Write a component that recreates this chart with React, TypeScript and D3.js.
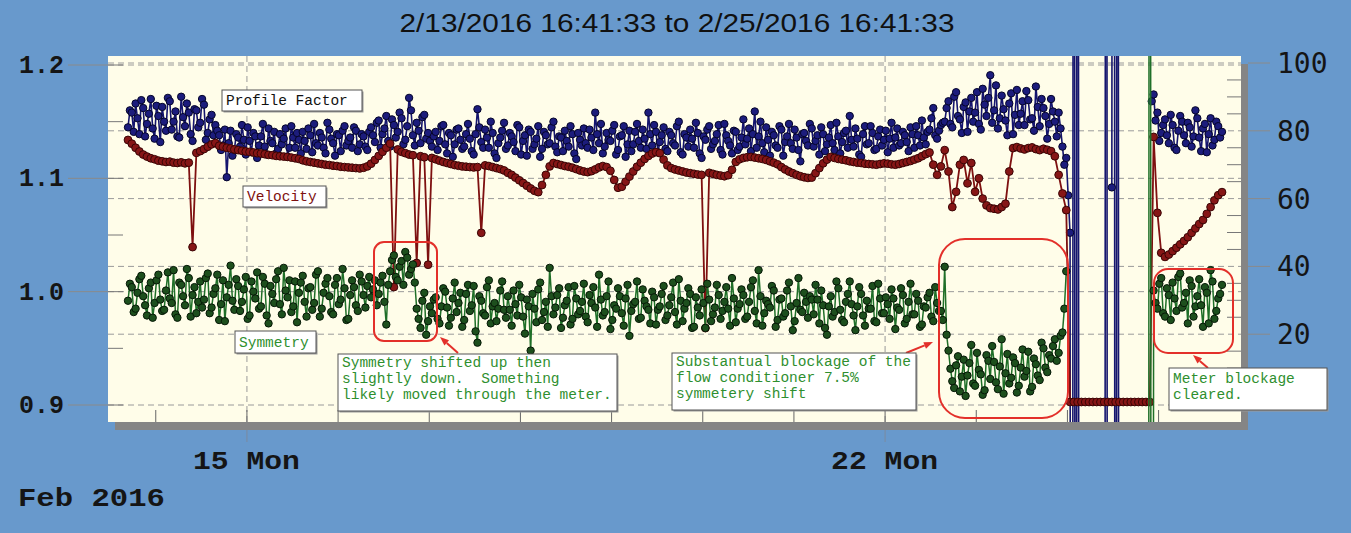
import React, { useEffect } from 'react';
import * as d3 from 'd3';

const W = 1351;
const H = 533;

const startTime = new Date(2016, 1, 13, 16, 41, 33);
const endTime = new Date(2016, 1, 25, 16, 41, 33);
const titleText = '2/13/2016 16:41:33 to 2/25/2016 16:41:33';

// readings on the hour (from startTime) and at the half hour in between.
// null = no reading, -1 / 3 = off-scale readings during the outage
const profileFactorOnHour: (number | null)[] = [
  1.145, 1.158, 1.166, 1.139, 1.162, 1.148, 1.170, 1.135, 1.155, 1.163, 1.142, 1.168, 1.150, 1.137, 1.172, 1.146, 1.158, 1.133, 1.160, 1.149, 1.165, 1.140, 1.156, 1.147,
  1.138, 1.129, 1.101, 1.142, 1.125, 1.136, 1.147, 1.121, 1.133, 1.140, 1.118, 1.137, 1.128, 1.144, 1.131, 1.122, 1.139, 1.135, 1.119, 1.146, 1.127, 1.134,
  1.141, 1.126, 1.138, 1.148, 1.129, 1.136, 1.122, 1.143, 1.131, 1.139, 1.124, 1.146, 1.133, 1.127, 1.142, 1.130, 1.137, 1.125,
  1.145, 1.132, 1.151, 1.139, 1.155, 1.128, 1.147, 1.141, 1.153, 1.134, 1.171, 1.138, 1.149, 1.131, 1.156, 1.140,
  1.128, 1.141, 1.133, 1.147, 1.122, 1.138, 1.130, 1.144, 1.126, 1.139, 1.135, 1.121, 1.161, 1.132, 1.143, 1.127, 1.140, 1.118, 1.136, 1.149,
  1.129, 1.137, 1.124, 1.145, 1.133, 1.120, 1.141, 1.130, 1.146, 1.126, 1.138, 1.131, 1.150, 1.123, 1.136, 1.142, 1.128, 1.139, 1.117, 1.134,
  1.144, 1.127, 1.136, 1.158, 1.131, 1.122, 1.140, 1.133, 1.147, 1.125, 1.138, 1.119, 1.142, 1.130, 1.148, 1.127, 1.135, 1.158, 1.129, 1.141,
  1.132, 1.145, 1.124, 1.138, 1.129, 1.150, 1.121, 1.136, 1.143, 1.127, 1.140, 1.118, 1.134, 1.146, 1.130, 1.139, 1.125, 1.148, 1.133, 1.122,
  1.141, 1.128, 1.152, 1.135, 1.124, 1.159, 1.137, 1.131, 1.145, 1.120, 1.138, 1.127, 1.143, 1.132, 1.148, 1.126, 1.136, 1.115, 1.140, 1.129,
  1.144, 1.133, 1.121, 1.139, 1.130, 1.147, 1.125, 1.137, 1.132, 1.142, 1.155, 1.128, 1.135, 1.119, 1.146, 1.131, 1.140, 1.126, 1.143, 1.134,
  1.123, 1.149, 1.136, 1.129, 1.141, 1.132, 1.145, 1.127, 1.138, 1.151, 1.130, 1.143, 1.162, 1.135, 1.147,
  1.150, 1.168, 1.145, 1.176, 1.152, 1.163, 1.141, 1.171, 1.158, 1.148, 1.179, 1.155, 1.191, 1.160, 1.144,
  1.173, 1.151, 1.166, 1.139, 1.178, 1.157, 1.147, 1.169, 1.153, 1.181, 1.146, 1.162, 1.135, 1.170, 1.150, 1.158, 1.128,
  1.118, 1.052, 3, 3,
  null, null, null, null, null, null,
  -1, -1, 1.092, -1, -1,
  null, null, null, null, null, null, null, null,
  1.174, 1.158, 1.140, 1.152, 1.131, 1.147, 1.125, 1.155, 1.138, 1.149, 1.128, 1.160, 1.136, 1.144, 1.123, 1.153, 1.134, 1.146, 1.141,
];

const profileFactorHalfHour: (number | null)[] = [
  1.160, 1.141, 1.153, 1.169, 1.137, 1.157, 1.144, 1.164, 1.132, 1.150, 1.171, 1.143, 1.159, 1.136, 1.154, 1.166, 1.139, 1.161, 1.145, 1.170, 1.134, 1.152, 1.138, 1.142,
  1.125, 1.143, 1.131, 1.120, 1.139, 1.128, 1.134, 1.145, 1.123, 1.137, 1.129, 1.148, 1.121, 1.133, 1.141, 1.126, 1.130, 1.144, 1.127, 1.136, 1.140, 1.122,
  1.133, 1.144, 1.123, 1.131, 1.140, 1.127, 1.149, 1.135, 1.120, 1.138, 1.142, 1.129, 1.136, 1.145, 1.124, 1.139, 1.128, 1.141,
  1.138, 1.149, 1.127, 1.144, 1.133, 1.152, 1.136, 1.158, 1.130, 1.146, 1.160, 1.129, 1.142, 1.154, 1.135, 1.133,
  1.137, 1.125, 1.146, 1.130, 1.140, 1.119, 1.143, 1.134, 1.128, 1.148, 1.124, 1.139, 1.145, 1.127, 1.136, 1.150, 1.122, 1.131, 1.142, 1.126,
  1.140, 1.132, 1.147, 1.121, 1.138, 1.143, 1.126, 1.135, 1.119, 1.141, 1.130, 1.145, 1.128, 1.137, 1.124, 1.133, 1.146, 1.122, 1.140, 1.129,
  1.131, 1.143, 1.125, 1.139, 1.148, 1.128, 1.134, 1.142, 1.121, 1.137, 1.146, 1.130, 1.124, 1.141, 1.133, 1.143, 1.126, 1.139, 1.147, 1.123,
  1.138, 1.126, 1.141, 1.131, 1.146, 1.123, 1.139, 1.128, 1.135, 1.149, 1.122, 1.137, 1.143, 1.126, 1.133, 1.147, 1.121, 1.138, 1.129, 1.142,
  1.125, 1.136, 1.130, 1.144, 1.139, 1.127, 1.150, 1.123, 1.134, 1.141, 1.129, 1.146, 1.120, 1.137, 1.131, 1.143, 1.125, 1.139, 1.133, 1.148,
  1.128, 1.138, 1.145, 1.124, 1.136, 1.131, 1.149, 1.122, 1.140, 1.127, 1.134, 1.144, 1.121, 1.139, 1.130, 1.146, 1.125, 1.137, 1.129, 1.142,
  1.135, 1.127, 1.144, 1.131, 1.138, 1.124, 1.139, 1.146, 1.129, 1.136, 1.141, 1.153, 1.138, 1.142, 1.149,
  1.162, 1.148, 1.172, 1.155, 1.140, 1.167, 1.159, 1.150, 1.176, 1.143, 1.165, 1.171, 1.149, 1.182, 1.153,
  1.161, 1.138, 1.175, 1.156, 1.147, 1.168, 1.177, 1.152, 1.142, 1.163, 1.170, 1.155, 1.148, 1.159, 1.137, 1.144, 1.112,
  1.085, -1, -1, -1,
  null, null, null, null, null, null,
  3, null, 3, 3,
  null, null, null, null, null, null, null, null,
  1.168,
  1.151, 1.133, 1.147, 1.138, 1.156, 1.127, 1.142, 1.150, 1.131, 1.145, 1.137, 1.153, 1.124, 1.148, 1.139, 1.129, 1.150, 1.136,
];

const symmetryOnHour: (number | null)[] = [
  0.992, 1.004, 0.985, 1.011, 0.996, 0.979, 1.008, 0.990, 1.015, 0.983, 1.001, 0.994, 1.019, 0.977, 1.006, 0.988, 1.012, 0.997, 0.981, 1.009,
  0.993, 1.016, 0.986, 1.003, 0.975, 1.010, 0.995, 1.023, 0.984, 1.005, 0.991, 1.013, 0.979, 1.000, 1.017, 0.987, 1.007, 0.972, 0.998, 1.011,
  0.989, 1.021, 0.995, 0.982, 1.009, 0.999, 1.014, 0.978, 1.004, 0.990, 1.018, 0.985, 1.007, 0.996, 0.980, 1.012, 0.993, 1.003, 0.976, 1.010,
  0.988, 1.015, 0.997, 1.005,
  0.995, 1.010, 0.998, 1.014, 0.971,
  1.018, 1.032, 1.010, 1.027, 1.035, 1.015, 1.024,
  0.985, 0.968, 0.999, 0.974,
  0.981, 0.995, 0.972, 1.003, 0.986, 0.977, 1.008, 0.990, 0.969, 0.998, 0.983, 1.005, 0.955, 0.992, 0.979, 1.010, 0.987, 0.974, 1.001, 0.984,
  0.996, 0.970, 0.989, 1.006, 0.978, 0.993, 0.948, 0.985, 1.002, 0.975, 0.991, 1.021, 0.980, 0.997, 0.968, 0.988, 1.004, 0.976, 0.994, 0.983,
  1.007, 0.973, 0.990, 0.986, 1.015, 0.979, 0.996, 0.967, 0.988, 1.003, 0.981, 0.994, 0.961, 0.989, 1.009, 0.977, 0.992, 0.984, 1.000, 0.971,
  0.987, 1.005, 0.979, 0.995, 0.982, 1.011, 0.974, 0.990, 0.998, 0.969, 0.986, 1.002, 0.968, 0.993, 0.980, 1.006, 0.976, 0.991, 0.985, 1.012,
  0.973, 0.989, 0.997, 0.978, 1.004, 0.983, 1.019, 0.970, 0.992, 0.986, 1.001, 0.975, 0.994, 0.981, 1.008, 0.966, 0.990, 0.984, 0.999, 0.977,
  0.993, 1.006, 0.972, 0.988, 0.962, 0.996, 0.982, 1.003, 0.975, 0.991, 1.009, 0.979, 0.987, 0.998, 0.970, 0.985, 1.005, 0.973, 0.994, 0.981,
  0.989, 1.002, 0.967, 0.984, 0.997, 0.976, 1.007, 0.980, 0.992, 0.971, 0.986, 0.999, 0.974, 0.990, 0.983,
  1.022,
  0.948, 0.921, 0.935, 0.912, 0.940, 0.926, 0.953, 0.917, 0.931, 0.909, 0.944, 0.923, 0.938, 0.914, 0.958, 0.928, 0.919, 0.942, 0.911, 0.933,
  0.925, 0.947, 0.916, 0.936, 0.922, 0.950, 0.929,
  0.941, 0.958, 0.946, 0.964,
  1.018,
  null, null, null, null, null, null, null, null, null, null, null, null, null, null, null, null, null, null, null, null, null,
  3,
  1.001, 0.985, 1.012, 0.978, 0.997, 1.008, 0.983, 1.016, 0.990, 0.972, 1.005, 0.987, 1.011, 0.969, 0.999, 1.019, 0.976, 0.994, 1.006,
];

const symmetryHalfHour: (number | null)[] = [
  1.007, 0.982, 0.999, 1.014, 0.988, 1.003, 0.977, 1.010, 0.993, 0.984, 1.017, 0.990, 0.980, 1.008, 0.996, 1.020, 0.978, 1.004, 0.991, 0.986,
  1.012, 0.981, 0.998, 1.015, 0.989, 0.974, 1.006, 0.992, 1.011, 0.983, 1.002, 0.976, 1.009, 0.994, 0.985, 1.013, 0.979, 1.005, 0.990, 1.018,
  0.980, 1.001, 1.010, 0.987, 0.973, 1.008, 0.991, 1.003, 0.984, 1.015, 0.978, 0.999, 1.012, 0.982, 1.006, 0.989, 1.020, 0.975, 0.997, 1.004,
  0.983, 1.009, 0.986, 1.013,
  1.002, 0.988, 1.008, 0.991, 1.006,
  1.028, 1.013, 1.022, 1.006, 1.030, 1.020, 1.008,
  0.976, 0.992, 0.962, 0.987,
  0.993, 0.976, 0.987, 1.000, 0.970, 0.994, 0.982, 0.999, 0.975, 1.006, 0.988, 0.965, 0.996, 0.981, 1.004, 0.972, 0.990, 0.985, 1.009, 0.977,
  0.984, 1.001, 0.979, 0.995, 0.963, 0.987, 0.998, 0.973, 1.008, 0.982, 0.969, 0.996, 0.986, 1.003, 0.977, 0.992, 0.971, 1.005, 0.980, 0.991,
  0.978, 0.997, 1.004, 0.969, 0.993, 0.982, 1.009, 0.975, 0.985, 0.996, 0.970, 1.006, 0.983, 0.991, 0.976, 1.002, 0.987, 0.972, 0.995, 0.984,
  0.998, 0.975, 0.988, 1.008, 0.971, 0.992, 0.985, 1.003, 0.968, 0.995, 0.979, 0.990, 1.007, 0.974, 0.986, 0.997, 0.983, 1.004, 0.970, 0.994,
  0.985, 1.002, 0.976, 0.991, 1.010, 0.972, 0.996, 0.981, 0.989, 1.005, 0.969, 0.993, 0.978, 1.001, 0.987, 0.974, 1.012, 0.982, 0.991, 0.996,
  0.980, 0.993, 1.001, 0.968, 0.987, 0.978, 1.009, 0.984, 0.973, 0.998, 0.989, 0.966, 1.004, 0.979, 0.992, 0.985, 0.974, 1.007, 0.981, 0.995,
  0.976, 0.994, 0.986, 1.003, 0.972, 0.991, 0.980, 0.998, 0.969, 0.987, 0.995, 0.978, 1.004, 0.983, 0.975,
  0.962,
  0.932, 0.915, 0.943, 0.925, 0.908, 0.937, 0.919, 0.946, 0.927, 0.913, 0.939, 0.952, 0.920, 0.934, 0.910, 0.945, 0.924, 0.937, 0.917, 0.949,
  0.930, 0.912, 0.941, 0.926, 0.955, 0.933, 0.944,
  0.952, 0.939, 0.961, 0.985,
  null, null, null, null, null, null, null, null, null, null, null, null, null, null, null, null, null, null, null, null, null,
  -1, -1,
  0.990, 1.007, 0.981, 1.003, 0.975, 0.994, 1.013, 0.986, 0.999, 1.010, 0.978, 0.996, 0.988, 1.004, 0.972, 1.009, 0.983, 0.998,
];

const velocityOnHour: (number | null)[] = [
  77.3, 76.2, 75.0, 73.9, 73.0, 72.4, 71.9, 71.6, 71.2, 71.0, 70.8, 70.9, 70.6, 70.5, 70.7, 70.4, 70.6,
  45.7,
  73.5,
  74.0, 74.6, 75.3, 76.0, 76.4,
  75.6, 75.3, 75.0, 74.8, 74.5, 74.3, 74.1, 73.9, 73.8, 73.6, 73.4, 73.3, 73.1, 72.9, 72.8, 72.6, 72.5, 72.4, 72.3, 72.1, 71.9, 71.7,
  71.3, 71.0, 70.8, 70.6, 70.4, 70.2, 70.0, 69.9, 69.7, 69.6, 69.4, 69.3, 69.2, 69.1, 69.0, 68.9, 69.1, 69.5,
  70.3, 71.4, 72.6, 73.8, 75.0, 76.2,
  33.9,
  74.5, 73.8, 73.4, 73.0, 72.8,
  41.0,
  72.5, 72.2,
  40.5,
  72.0, 71.6, 71.2, 70.8, 70.5, 70.2, 69.9, 69.7, 69.5, 69.4, 69.3, 69.2, 69.3,
  49.9,
  69.8, 69.6, 69.3, 69.0, 68.7, 68.3,
  67.6, 67.0, 66.2, 65.4, 64.6, 63.8, 63.0, 62.3, 61.9,
  64.0, 67.0, 69.5,
  70.5, 70.2, 69.9, 69.6, 69.4, 69.1, 68.7, 68.3, 68.0, 67.8, 68.1, 68.6, 69.2, 69.6, 69.3, 68.2,
  65.5, 63.2, 63.5,
  65.0, 66.5, 68.0, 69.4, 70.6, 71.7, 72.6, 73.3, 73.7,
  73.4, 71.5, 69.8, 69.0, 68.6, 68.3, 68.0, 67.7, 67.5, 67.3, 67.1, 67.0,
  21.8,
  67.6, 67.3, 67.0, 66.8, 66.6, 66.9, 68.5,
  70.8, 71.6, 72.0, 72.2, 72.3, 72.1, 71.9, 71.7, 71.4, 71.0, 70.6, 70.1,
  69.3, 68.6, 68.0, 67.5, 67.0, 66.6, 66.3, 66.1, 66.2,
  67.5, 69.0, 70.4, 71.5, 72.3,
  72.0, 71.7, 71.5, 71.3, 71.0, 70.8, 70.6, 70.5, 70.3, 70.2, 70.1, 70.0, 70.2, 70.4, 70.3, 70.1, 70.0, 70.2, 70.5, 70.8, 71.1, 71.5, 71.9,
  72.5, 73.1, 73.6, 70.0, 67.0, 69.5, 74.3,
  68.0, 57.5, 62.0, 70.0,
  71.4, 64.5, 70.5, 62.0, 66.0,
  60.0, 58.0, 57.2, 57.0, 56.8, 57.5, 58.5,
  68.0, 74.9,
  75.2, 74.8, 74.5, 74.9, 75.1, 74.6, 74.3, 74.7, 74.4, 74.0, 72.5,
  67.0, 61.5,
  56.6,
  0, 0, 0, 0, 0, 0, 0, 0, 0, 0, 0, 0, 0, 0, 0, 0, 0, 0, 0, 0, 0, 0,
  78.2, 55.8, 44.0,
  42.8, 43.5, 44.5, 45.5, 46.5, 47.5, 48.6, 49.9,
  51.2, 52.5, 53.7,
  55.5, 57.5, 59.5, 61.0, 61.9,
];

const leftTicks = [1.2, 1.1, 1.0, 0.9];
const leftMinorTicks = [1.2, 1.15, 1.1, 1.05, 1.0, 0.95, 0.9];
const rightTicks = [100, 80, 60, 40, 20];
const rightMinorTicks = [95, 90, 85, 75, 70, 65, 55, 50, 45, 35, 30, 25, 15, 10, 5];
const weekLabels = [
  { date: new Date(2016, 1, 15), label: '15 Mon' },
  { date: new Date(2016, 1, 22), label: '22 Mon' },
];
const monthLabel = 'Feb 2016';

const BG = '#6899cc';
const CREAM = '#fffde9';
const NAVY = '#15156e';
const MAROON = '#7e1010';
const NOTE_GREEN = '#2f8f2f';
const RED = '#e3302a';

const mono = '"Liberation Mono", "Courier New", monospace';

type Sample = { t: Date; v: number | null };

// merge the on-hour and half-hour readings into one time-ordered series
function mergeReadings(onHour: (number | null)[], halfHour: (number | null)[]): Sample[] {
  const out: Sample[] = [];
  onHour.forEach((v, i) => {
    out.push({ t: d3.timeHour.offset(startTime, i), v });
    if (i < halfHour.length) out.push({ t: d3.timeMinute.offset(startTime, i * 60 + 30), v: halfHour[i] });
  });
  return out;
}

function NoteBox({ x, y, w, h, lines, color, dx = 4, lh = 16, first = 13 }: any) {
  return (
    <g>
      <rect x={x + 1.5} y={y + 1.5} width={w} height={h} fill="#9a9a9a" />
      <rect x={x} y={y} width={w} height={h} fill="#ffffff" stroke="#555" strokeWidth={1} />
      {lines.map((t: string, i: number) => (
        <text key={i} x={x + dx} y={y + first + i * lh} fill={color} fontFamily={mono} fontSize={14.5} style={{ whiteSpace: 'pre' }}>
          {t}
        </text>
      ))}
    </g>
  );
}

function Arrow({ x1, y1, x2, y2 }: any) {
  const a = Math.atan2(y2 - y1, x2 - x1);
  const L = 9;
  const hw = 3.5;
  const bx = x2 - L * Math.cos(a);
  const by = y2 - L * Math.sin(a);
  const pts = [
    [x2, y2],
    [bx + hw * Math.sin(a), by - hw * Math.cos(a)],
    [bx - hw * Math.sin(a), by + hw * Math.cos(a)],
  ];
  return (
    <g>
      <line x1={x1} y1={y1} x2={bx} y2={by} stroke={RED} strokeWidth={2} />
      <polygon points={pts.map(p => p.join(',')).join(' ')} fill={RED} />
    </g>
  );
}

export default function App() {
  useEffect(() => {
    document.body.style.margin = '0';
    document.body.style.overflow = 'hidden';
  }, []);

  const plot = { left: 108, top: 56, right: 1241, bottom: 422 };

  const x = d3.scaleTime().domain([startTime, endTime]).range([128, 1222]);
  const yL = d3.scaleLinear().domain([0.9, 1.2]).range([405, 65]);
  const yR = d3.scaleLinear().domain([0, 100]).range([402, 63]);

  const dayTicks = d3.timeDay.range(startTime, endTime);

  const series = [
    { data: mergeReadings(profileFactorOnHour, profileFactorHalfHour), y: yL, line: NAVY, fill: '#1c1c7c', edge: '#05052a', lw: 1.6, r: 3.7 },
    { data: velocityOnHour.map((v, i) => ({ t: d3.timeHour.offset(startTime, i), v })), y: yR, line: MAROON, fill: '#861616', edge: '#3a0505', lw: 1.8, r: 3.9 },
    { data: mergeReadings(symmetryOnHour, symmetryHalfHour), y: yL, line: '#1f6f28', fill: '#1d4f1d', edge: '#061806', lw: 1.5, r: 3.7 },
  ];

  const pathFor = (data: Sample[], y: any) =>
    d3.line<Sample>()
      .defined(d => d.v != null)
      .x(d => x(d.t))
      .y(d => y(d.v as number))(data) || '';

  return (
    <div style={{ position: 'absolute', left: 0, top: 0 }}>
      <svg width={W} height={H} style={{ display: 'block' }}>
        <defs>
          <clipPath id="plotClip">
            <rect x={plot.left} y={plot.top} width={plot.right - plot.left} height={plot.bottom - plot.top} />
          </clipPath>
        </defs>
        <rect x={0} y={0} width={W} height={H} fill={BG} />

        {/* title */}
        <text x={677} y={32} textAnchor="middle" fontFamily='"Liberation Sans", Arial, sans-serif' fontSize={25} fill="#111"
          textLength={555} lengthAdjust="spacingAndGlyphs">{titleText}</text>

        {/* frame with shadow */}
        <rect x={plot.left + 7} y={plot.top + 8} width={plot.right - plot.left} height={plot.bottom - plot.top} fill="#858585" />
        <rect x={plot.left} y={plot.top} width={plot.right - plot.left} height={plot.bottom - plot.top} fill={CREAM} />

        {/* grid */}
        {leftTicks.map(v => (
          <g key={'lg' + v}>
            <line x1={plot.left} x2={plot.right} y1={yL(v)} y2={yL(v)} stroke="#9a9a9a" strokeDasharray="6,4" />
            <line x1={68} x2={plot.left} y1={yL(v)} y2={yL(v)} stroke="#8a8a8a" />
          </g>
        ))}
        {rightTicks.map(v => (
          <g key={'rg' + v}>
            <line x1={plot.left} x2={plot.right} y1={yR(v)} y2={yR(v)} stroke="#9a9a9a" strokeDasharray="6,4" />
            <line x1={plot.right + 7} x2={1270} y1={yR(v)} y2={yR(v)} stroke="#8a8a8a" />
          </g>
        ))}
        {leftMinorTicks.map(v => (
          <line key={'lm' + v} x1={plot.left} x2={plot.left + 15} y1={yL(v)} y2={yL(v)} stroke="#777" />
        ))}
        {rightMinorTicks.map(v => (
          <line key={'rm' + v} x1={plot.right - 14} x2={plot.right} y1={yR(v)} y2={yR(v)} stroke="#777" />
        ))}
        {weekLabels.map(d => (
          <g key={'wg' + d.label}>
            <line x1={x(d.date)} x2={x(d.date)} y1={plot.top} y2={plot.bottom} stroke="#9a9a9a" strokeDasharray="6,4" />
            <line x1={x(d.date)} x2={x(d.date)} y1={plot.bottom + 8} y2={plot.bottom + 20} stroke="#7a8aa0" />
          </g>
        ))}
        {dayTicks.map(d => (
          <line key={'dt' + d.getTime()} x1={x(d)} x2={x(d)} y1={plot.bottom - 12} y2={plot.bottom} stroke="#666" />
        ))}

        {/* data */}
        <g clipPath="url(#plotClip)">
          {series.map((s, k) => (
            <g key={'s' + k}>
              <path d={pathFor(s.data, s.y)} fill="none" stroke={s.line} strokeWidth={s.lw} />
              {s.data.map((d, i) =>
                d.v == null ? null : (
                  <circle key={i} cx={x(d.t)} cy={s.y(d.v)} r={s.r} fill={s.fill} stroke={s.edge} strokeWidth={1} />
                )
              )}
            </g>
          ))}
        </g>

        {/* highlight outlines */}
        <rect x={374} y={242} width={63} height={99} rx={10} fill="none" stroke={RED} strokeWidth={2} />
        <rect x={939} y={239} width={129} height={179} rx={26} fill="none" stroke={RED} strokeWidth={2} />
        <rect x={1154} y={269} width={79} height={84} rx={14} fill="none" stroke={RED} strokeWidth={2} />

        <Arrow x1={458} y1={353} x2={440} y2={337} />
        <Arrow x1={906} y1={353} x2={933} y2={342} />
        <Arrow x1={1208} y1={368} x2={1193} y2={355} />

        {/* labels inside plot */}
        <NoteBox x={222} y={90} w={140} h={21} lines={['Profile Factor']} color="#111" first={15} />
        <NoteBox x={243} y={186} w={83} h={21} lines={['Velocity']} color={MAROON} first={15} />
        <NoteBox x={235} y={331} w={81} h={22} lines={['Symmetry']} color={NOTE_GREEN} first={16} />
        <NoteBox x={338} y={354} w={279} h={57} lines={['Symmetry shifted up then', 'slightly down.  Something', 'likely moved through the meter.']} color={NOTE_GREEN} />
        <NoteBox x={672} y={353} w={244} h={57} lines={['Substantual blockage of the', 'flow conditioner 7.5%', 'symmetery shift']} color={NOTE_GREEN} />
        <NoteBox x={1169} y={368} w={158} h={42} lines={['Meter blockage', 'cleared.']} color={NOTE_GREEN} first={15} />

        {/* axis labels */}
        {leftTicks.map(v => (
          <text key={'lt' + v} x={64} y={yL(v) + 8} textAnchor="end" fontFamily={mono} fontWeight="bold" fontSize={25} fill="#151515">
            {d3.format('.1f')(v)}
          </text>
        ))}
        {rightTicks.map(v => (
          <text key={'rt' + v} x={1277} y={yR(v) + 10} fontFamily='"DejaVu Sans Mono", monospace' fontSize={28} fill="#151515">
            {v}
          </text>
        ))}
        {weekLabels.map(d => (
          <text key={'wl' + d.label} x={x(d.date) - 54} y={469} fontFamily={mono} fontWeight="bold" fontSize={26} fill="#151515"
            textLength={107} lengthAdjust="spacingAndGlyphs">
            {d.label}
          </text>
        ))}
        <text x={18} y={506} fontFamily={mono} fontWeight="bold" fontSize={26} fill="#151515"
          textLength={147} lengthAdjust="spacingAndGlyphs">{monthLabel}</text>
      </svg>
    </div>
  );
}
